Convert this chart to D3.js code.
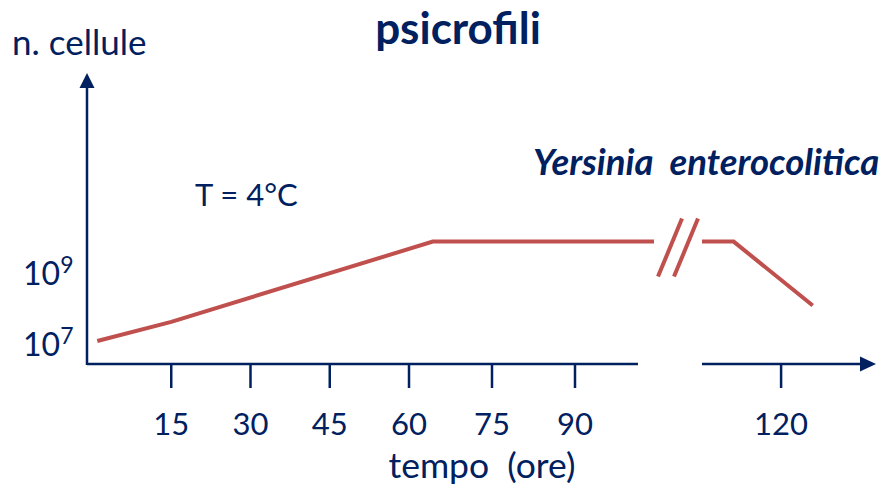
<!DOCTYPE html>
<html>
<head>
<meta charset="utf-8">
<script src="https://cdn.jsdelivr.net/npm/d3@7"></script>
<style>
  body { margin: 0; background: #fff; }
  text { font-family: Lato, "Open Sans", sans-serif; fill: #002060; }
</style>
</head>
<body>
<script>
// growth curve of Yersinia enterocolitica at 4°C (hours, log10 cells)
var growthBefore = [
  {t: 1, v: 7.0},
  {t: 15, v: 7.54},
  {t: 64.3, v: 9.8},
  {t: 104.3, v: 9.8}
];
var growthAfter = [
  {t: 105, v: 9.8},
  {t: 111, v: 9.8},
  {t: 126, v: 8.0}
];
var xTicks = [15, 30, 45, 60, 75, 90, 120];
var yTicks = [7, 9];
var axisBreak = [101.4, 105];   // x axis is cut between these hours
var xMax = 138;

var width = 882, height = 486;
var navy = "#002060", red = "#c0504d";

var svg = d3.select("body")
  .append("svg")
    .attr("width", width)
    .attr("height", height);

// hand drawn axis: not quite even, and broken before 120
var x = d3.scaleLinear()
  .domain([0, 60, 90, 104.3, 105, xMax])
  .range([92, 409, 575, 654, 702, 876]);
var y = d3.scaleLinear()
  .domain([7, 9])
  .range([341, 270]);

var originX = 87, originY = 364, yTop = 73;

// y axis with arrow
svg.append("line")
  .attr("x1", originX).attr("x2", originX)
  .attr("y1", originY + 1).attr("y2", yTop + 10)
  .attr("stroke", navy).attr("stroke-width", 2.5);
svg.append("path")
  .attr("d", "M" + originX + "," + yTop + "l-7.5,15h15z")
  .attr("fill", navy);

// x axis in two pieces
svg.append("line")
  .attr("x1", originX).attr("x2", x(axisBreak[0]))
  .attr("y1", originY).attr("y2", originY)
  .attr("stroke", navy).attr("stroke-width", 2.5);
svg.append("line")
  .attr("x1", x(axisBreak[1])).attr("x2", x(xMax) - 10)
  .attr("y1", originY).attr("y2", originY)
  .attr("stroke", navy).attr("stroke-width", 2.5);
svg.append("path")
  .attr("d", "M" + x(xMax) + "," + originY + "l-16,-7.5v15z")
  .attr("fill", navy);

// ticks
var xAxis = svg.append("g");
xAxis.selectAll("line")
    .data(xTicks)
  .enter().append("line")
    .attr("x1", function(d) { return x(d); })
    .attr("x2", function(d) { return x(d); })
    .attr("y1", originY)
    .attr("y2", originY + 24)
    .attr("stroke", navy)
    .attr("stroke-width", 2.5);
xAxis.selectAll("text")
    .data(xTicks)
  .enter().append("text")
    .attr("x", function(d) { return x(d); })
    .attr("y", 435)
    .attr("text-anchor", "middle")
    .style("font-size", "31px")
    .text(function(d) { return d; });

var yLabels = svg.append("g").selectAll("text")
    .data(yTicks)
  .enter().append("text")
    .attr("x", 23)
    .attr("y", function(d) { return y(d) + 15; })
    .style("font-size", "32px");
yLabels.append("tspan").text("10");
yLabels.append("tspan")
  .attr("dy", -12)
  .style("font-size", "23px")
  .text(function(d) { return d; });

// curve
var line = d3.line()
  .x(function(d) { return x(d.t); })
  .y(function(d) { return y(d.v); });

[growthBefore, growthAfter].forEach(function(part) {
  svg.append("path")
    .datum(part)
    .attr("d", line)
    .attr("fill", "none")
    .attr("stroke", red)
    .attr("stroke-width", 4);
});

// break marks on the curve
var plateauY = y(growthBefore[growthBefore.length - 1].v);
var breakMid = (x(growthBefore[growthBefore.length - 1].t) + x(growthAfter[0].t)) / 2;
[-8, 8].forEach(function(off) {
  svg.append("line")
    .attr("x1", breakMid + off - 12).attr("y1", plateauY + 35)
    .attr("x2", breakMid + off + 12).attr("y2", plateauY - 23)
    .attr("stroke", red)
    .attr("stroke-width", 4);
});

// labels
svg.append("text")
  .attr("x", 12).attr("y", 55)
  .style("font-size", "35px")
  .text("n. cellule");
svg.append("text")
  .attr("x", 458).attr("y", 44)
  .attr("text-anchor", "middle")
  .style("font-size", "44px")
  .style("font-weight", "bold")
  .text("psicrofili");
svg.append("text")
  .attr("x", 533).attr("y", 175)
  .style("font-size", "36.5px")
  .style("font-weight", "bold")
  .style("font-style", "italic")
  .attr("xml:space", "preserve")
  .text("Yersinia  enterocolitica");
svg.append("text")
  .attr("x", 195).attr("y", 206)
  .style("font-size", "31px")
  .text("T = 4°C");
svg.append("text")
  .attr("x", 482).attr("y", 478)
  .attr("text-anchor", "middle")
  .style("font-size", "35.5px")
  .attr("xml:space", "preserve")
  .text("tempo  (ore)");
</script>
</body>
</html>
